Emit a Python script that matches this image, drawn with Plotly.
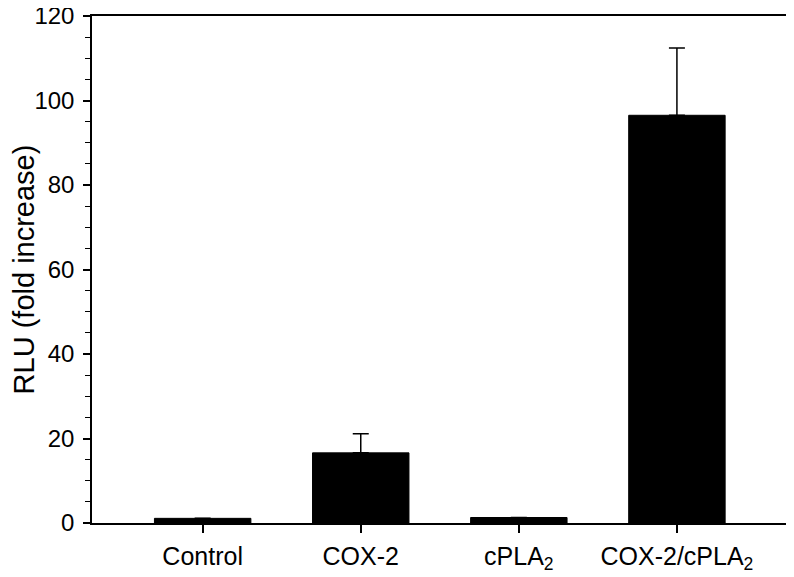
import plotly.graph_objects as go

categories = ["Control", "COX-2", "cPLA<sub>2</sub>", "COX-2/cPLA<sub>2</sub>"]
values = [1.1, 16.6, 1.3, 96.5]
errors_up = [0, 4.5, 0, 15.9]
y_tick_vals = [0, 20, 40, 60, 80, 100, 120]

x_pos = list(range(len(categories)))

fig = go.Figure()
fig.add_trace(go.Bar(
    x=x_pos, y=values, width=0.61,
    marker=dict(color="black", line=dict(color="black", width=1)),
    error_y=dict(type="data", array=errors_up, symmetric=False, arrayminus=[0]*4,
                 color="black", thickness=1.5, width=8),
    showlegend=False,
))

font = "Liberation Sans, Arial, Helvetica, sans-serif"
# page body has an 8px default margin, so the figure is offset by (8, 8)
fig.update_layout(
    width=786, height=569,
    margin=dict(l=84, r=8, t=8, b=54),
    plot_bgcolor="white", paper_bgcolor="white",
    font=dict(family=font, color="black"),
    xaxis=dict(
        range=[-0.70, 3.69], tickmode="array", tickvals=x_pos, ticktext=categories,
        ticks="outside", ticklen=8, tickwidth=1.5, tickcolor="black",
        showline=True, linecolor="black", linewidth=1.5, mirror=True,
        showgrid=False, zeroline=False, tickfont=dict(size=25), automargin=False,
        ticklabeloverflow="allow", ticklabelstandoff=2,
    ),
    yaxis=dict(
        range=[0, 120], tickvals=y_tick_vals,
        ticks="outside", ticklen=7, tickwidth=1.5, tickcolor="black",
        minor=dict(dtick=5, ticks="outside", ticklen=5, tickwidth=1.2, tickcolor="black", showgrid=False),
        showline=True, linecolor="black", linewidth=1.5, mirror=True,
        showgrid=False, zeroline=False, tickfont=dict(size=24), automargin=False,
        ticklabeloverflow="allow", ticklabelstandoff=4,
        title=dict(text="RLU (fold increase)", font=dict(size=29), standoff=0),
    ),
)

fig.write_html("out.html")
